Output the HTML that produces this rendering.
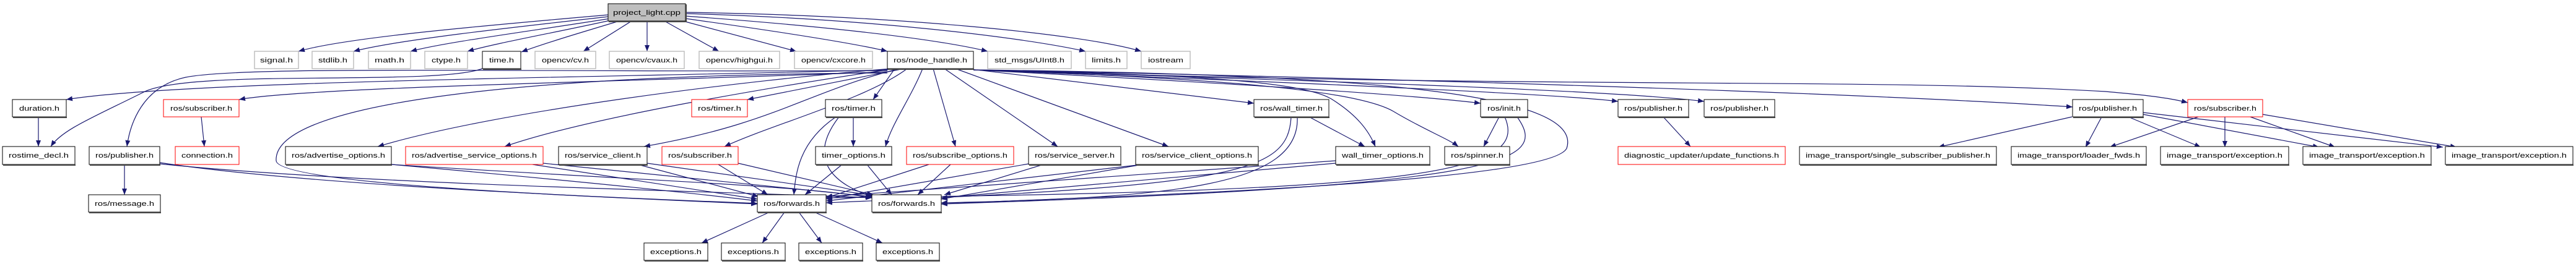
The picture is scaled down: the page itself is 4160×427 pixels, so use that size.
<!DOCTYPE html>
<html><head><meta charset="utf-8"><style>
html,body{margin:0;padding:0;background:#fff;}
svg{display:block;}
text{font-family:"Liberation Sans",sans-serif;font-size:11px;fill:#000;}
.e{fill:none;stroke:#191970;stroke-width:1.2;marker-end:url(#a);}
.b{fill:#fff;stroke:#000;stroke-width:1;}
.g{fill:#fff;stroke:#bfbfbf;stroke-width:1.5;}
.r{fill:#fff;stroke:#ff0000;stroke-width:1;}
.s{fill:none;stroke:#444;stroke-width:2;}
</style></head><body>
<svg width="4160" height="427" viewBox="0 0 4160 427" xmlns="http://www.w3.org/2000/svg">
<defs><marker id="a" markerUnits="userSpaceOnUse" markerWidth="12" markerHeight="10" refX="10" refY="4" orient="auto"><path d="M0,0 L10,4 L0,8 z" fill="#191970"/></marker></defs>
<g>
<path class="e" d="M982,24 C800,40 560,60 482,83"/>
<path class="e" d="M982,27 C820,45 640,65 571,83"/>
<path class="e" d="M985,30 C860,50 720,68 663,83"/>
<path class="e" d="M990,32 C900,52 800,70 755,83"/>
<path class="e" d="M1000,34 C930,55 880,70 842,84"/>
<path class="e" d="M1020,34 L942,83"/>
<path class="e" d="M1045,34 L1045,83"/>
<path class="e" d="M1073,34 L1161,83"/>
<path class="e" d="M1103,34 L1286,83"/>
<path class="e" d="M1107,30 C1250,50 1380,70 1433,83"/>
<path class="e" d="M1107,26 C1300,40 1500,60 1595,83"/>
<path class="e" d="M1107,22 C1400,30 1650,60 1753,83"/>
<path class="e" d="M1107,20 C1450,25 1750,55 1843,83"/>
<path class="e" d="M779,111 C700,140 300,110 230,150 C150,190 100,210 82,237"/>
<path class="e" d="M62,189 L62,237"/>
<path class="e" d="M1433,113 C1000,125 300,130 107,161"/>
<path class="e" d="M1433,116 C1100,130 500,140 386,161"/>
<path class="e" d="M1433,114 C900,118 400,105 300,125 C230,140 210,200 205,237"/>
<path class="e" d="M1433,118 C900,120 440,160 446,260 C450,300 1000,320 1223,329"/>
<path class="e" d="M1440,111 C1200,130 800,180 610,237"/>
<path class="e" d="M1445,111 C1250,140 950,190 815,237"/>
<path class="e" d="M1452,111 C1300,150 1250,200 1040,237"/>
<path class="e" d="M1460,111 L1207,161"/>
<path class="e" d="M1465,111 C1400,160 1250,200 1170,237"/>
<path class="e" d="M1445,111 L1410,161"/>
<path class="e" d="M1490,111 C1470,160 1440,200 1430,237"/>
<path class="e" d="M1507,111 L1543,237"/>
<path class="e" d="M1525,111 L1708,237"/>
<path class="e" d="M1543,111 L1887,237"/>
<path class="e" d="M1578,113 L2025,167"/>
<path class="e" d="M1572,113 C1900,120 2100,130 2150,160 C2190,185 2210,210 2221,237"/>
<path class="e" d="M1572,113 C1900,125 2180,140 2250,180 C2300,210 2340,225 2355,237"/>
<path class="e" d="M1572,113 C1900,130 2250,150 2391,167"/>
<path class="e" d="M1572,113 C2200,120 2560,150 2530,240 C2500,300 1700,320 1520,330"/>
<path class="e" d="M1572,113 C2000,130 2500,150 2613,164"/>
<path class="e" d="M1572,113 C2100,130 2600,145 2752,164"/>
<path class="e" d="M1572,113 C2200,125 3000,150 3347,173"/>
<path class="e" d="M1572,113 C2500,145 3000,125 3400,148 C3480,155 3510,160 3533,166"/>
<path class="e" d="M325,189 L330,237"/>
<path class="e" d="M201,266 L201,315"/>
<path class="e" d="M1378,189 L1378,237"/>
<path class="e" d="M2114,189 L2204,237"/>
<path class="e" d="M2421,189 L2396,237"/>
<path class="e" d="M2686,189 L2730,237"/>
<path class="e" d="M3346,189 L3130,238"/>
<path class="e" d="M3394,189 L3368,238"/>
<path class="e" d="M3437,189 L3554,238"/>
<path class="e" d="M3461,185 L3745,238"/>
<path class="e" d="M3461,182 L3945,238"/>
<path class="e" d="M3550,189 L3407,238"/>
<path class="e" d="M3593,189 L3593,238"/>
<path class="e" d="M3634,189 L3771,238"/>
<path class="e" d="M3654,185 L3967,238"/>
<path class="e" d="M258,263 C500,300 1000,320 1223,330"/>
<path class="e" d="M258,265 C600,300 1200,310 1408,320"/>
<path class="e" d="M632,266 C900,290 1100,310 1223,325"/>
<path class="e" d="M632,266 C1000,290 1300,300 1408,320"/>
<path class="e" d="M860,266 L1223,322"/>
<path class="e" d="M877,264 L1408,318"/>
<path class="e" d="M1030,266 L1225,318"/>
<path class="e" d="M1045,264 L1410,316"/>
<path class="e" d="M1160,266 L1240,315"/>
<path class="e" d="M1192,264 L1410,315"/>
<path class="e" d="M1350,189 C1290,230 1285,280 1282,315"/>
<path class="e" d="M1355,189 C1300,260 1350,300 1410,318"/>
<path class="e" d="M1360,266 L1300,315"/>
<path class="e" d="M1400,266 L1440,315"/>
<path class="e" d="M1500,266 L1334,320"/>
<path class="e" d="M1535,266 L1482,315"/>
<path class="e" d="M1661,265 L1334,322"/>
<path class="e" d="M1685,266 L1525,315"/>
<path class="e" d="M1845,266 L1334,325"/>
<path class="e" d="M1845,266 L1520,322"/>
<path class="e" d="M2085,189 C2080,280 2000,300 1334,328"/>
<path class="e" d="M2095,189 C2100,300 1900,320 1520,328"/>
<path class="e" d="M2157,260 L1334,318"/>
<path class="e" d="M2157,264 L1520,320"/>
<path class="e" d="M2430,189 C2470,280 2300,310 1334,320"/>
<path class="e" d="M2450,189 C2500,260 2450,300 1520,330"/>
<path class="e" d="M1243,343 L1133,393"/>
<path class="e" d="M1267,343 L1231,393"/>
<path class="e" d="M1290,343 L1327,393"/>
<path class="e" d="M1315,343 L1425,393"/>
</g>
<!-- nodes -->
<g>
<rect x="982" y="6" width="125" height="28" fill="#bfbfbf" stroke="#000"/><path class="s" d="M983,35 H1108 V7"/>
<text x="990" y="24" textLength="109" lengthAdjust="spacingAndGlyphs">project_light.cpp</text>

<rect class="g" x="411" y="83" width="71" height="28"/><text x="420" y="101" textLength="53" lengthAdjust="spacingAndGlyphs">signal.h</text>
<rect class="g" x="504" y="83" width="67" height="28"/><text x="514" y="101" textLength="47" lengthAdjust="spacingAndGlyphs">stdlib.h</text>
<rect class="g" x="595" y="83" width="68" height="28"/><text x="605" y="101" textLength="48" lengthAdjust="spacingAndGlyphs">math.h</text>
<rect class="g" x="686" y="83" width="69" height="28"/><text x="697" y="101" textLength="47" lengthAdjust="spacingAndGlyphs">ctype.h</text>
<rect class="b" x="779" y="83" width="62" height="28"/><path class="s" d="M780,112 H842"/><text x="790" y="101" textLength="40" lengthAdjust="spacingAndGlyphs">time.h</text>
<rect class="g" x="864" y="83" width="98" height="28"/><text x="875" y="101" textLength="76" lengthAdjust="spacingAndGlyphs">opencv/cv.h</text>
<rect class="g" x="984" y="83" width="121" height="28"/><text x="995" y="101" textLength="99" lengthAdjust="spacingAndGlyphs">opencv/cvaux.h</text>
<rect class="g" x="1129" y="83" width="130" height="28"/><text x="1140" y="101" textLength="108" lengthAdjust="spacingAndGlyphs">opencv/highgui.h</text>
<rect class="g" x="1283" y="83" width="126" height="28"/><text x="1294" y="101" textLength="104" lengthAdjust="spacingAndGlyphs">opencv/cxcore.h</text>
<rect class="b" x="1433" y="83" width="139" height="28"/><path class="s" d="M1434,112 H1573"/><text x="1443" y="101" textLength="119" lengthAdjust="spacingAndGlyphs">ros/node_handle.h</text>
<rect class="g" x="1595" y="83" width="135" height="28"/><text x="1606" y="101" textLength="113" lengthAdjust="spacingAndGlyphs">std_msgs/UInt8.h</text>
<rect class="g" x="1753" y="83" width="67" height="28"/><text x="1763" y="101" textLength="47" lengthAdjust="spacingAndGlyphs">limits.h</text>
<rect class="g" x="1843" y="83" width="79" height="28"/><text x="1854" y="101" textLength="57" lengthAdjust="spacingAndGlyphs">iostream</text>

<rect class="b" x="20" y="161" width="87" height="28"/><path class="s" d="M21,190 H108"/><text x="31" y="179" textLength="65" lengthAdjust="spacingAndGlyphs">duration.h</text>
<rect class="r" x="264" y="161" width="122" height="28"/><text x="275" y="179" textLength="100" lengthAdjust="spacingAndGlyphs">ros/subscriber.h</text>
<rect class="r" x="1117" y="161" width="90" height="28"/><text x="1127" y="179" textLength="70" lengthAdjust="spacingAndGlyphs">ros/timer.h</text>
<rect class="b" x="1333" y="161" width="91" height="28"/><path class="s" d="M1334,190 H1425"/><text x="1343" y="179" textLength="71" lengthAdjust="spacingAndGlyphs">ros/timer.h</text>
<rect class="b" x="2025" y="161" width="121" height="28"/><path class="s" d="M2026,190 H2147"/><text x="2035" y="179" textLength="101" lengthAdjust="spacingAndGlyphs">ros/wall_timer.h</text>
<rect class="b" x="2391" y="161" width="76" height="28"/><path class="s" d="M2392,190 H2468"/><text x="2402" y="179" textLength="54" lengthAdjust="spacingAndGlyphs">ros/init.h</text>
<rect class="b" x="2613" y="161" width="114" height="28"/><path class="s" d="M2614,190 H2728"/><text x="2623" y="179" textLength="94" lengthAdjust="spacingAndGlyphs">ros/publisher.h</text>
<rect class="b" x="2752" y="161" width="114" height="28"/><path class="s" d="M2753,190 H2867"/><text x="2762" y="179" textLength="94" lengthAdjust="spacingAndGlyphs">ros/publisher.h</text>
<rect class="b" x="3347" y="161" width="114" height="28"/><path class="s" d="M3348,190 H3462"/><text x="3357" y="179" textLength="94" lengthAdjust="spacingAndGlyphs">ros/publisher.h</text>
<rect class="r" x="3533" y="161" width="121" height="28"/><text x="3543" y="179" textLength="101" lengthAdjust="spacingAndGlyphs">ros/subscriber.h</text>

<rect class="b" x="4" y="237" width="117" height="29"/><path class="s" d="M5,267 H122"/><text x="14" y="255" textLength="97" lengthAdjust="spacingAndGlyphs">rostime_decl.h</text>
<rect class="b" x="144" y="237" width="114" height="29"/><path class="s" d="M145,267 H259"/><text x="154" y="255" textLength="94" lengthAdjust="spacingAndGlyphs">ros/publisher.h</text>
<rect class="r" x="283" y="237" width="103" height="29"/><text x="293" y="255" textLength="83" lengthAdjust="spacingAndGlyphs">connection.h</text>
<rect class="b" x="461" y="237" width="171" height="29"/><path class="s" d="M462,267 H633"/><text x="471" y="255" textLength="151" lengthAdjust="spacingAndGlyphs">ros/advertise_options.h</text>
<rect class="r" x="655" y="237" width="222" height="29"/><text x="665" y="255" textLength="202" lengthAdjust="spacingAndGlyphs">ros/advertise_service_options.h</text>
<rect class="b" x="902" y="237" width="143" height="29"/><path class="s" d="M903,267 H1046"/><text x="912" y="255" textLength="123" lengthAdjust="spacingAndGlyphs">ros/service_client.h</text>
<rect class="r" x="1069" y="237" width="123" height="29"/><text x="1079" y="255" textLength="103" lengthAdjust="spacingAndGlyphs">ros/subscriber.h</text>
<rect class="b" x="1317" y="237" width="123" height="29"/><path class="s" d="M1318,267 H1441"/><text x="1327" y="255" textLength="103" lengthAdjust="spacingAndGlyphs">timer_options.h</text>
<rect class="r" x="1464" y="237" width="173" height="29"/><text x="1474" y="255" textLength="153" lengthAdjust="spacingAndGlyphs">ros/subscribe_options.h</text>
<rect class="b" x="1661" y="237" width="149" height="29"/><path class="s" d="M1662,267 H1811"/><text x="1671" y="255" textLength="129" lengthAdjust="spacingAndGlyphs">ros/service_server.h</text>
<rect class="b" x="1834" y="237" width="198" height="29"/><path class="s" d="M1835,267 H2033"/><text x="1844" y="255" textLength="178" lengthAdjust="spacingAndGlyphs">ros/service_client_options.h</text>
<rect class="b" x="2157" y="237" width="152" height="29"/><path class="s" d="M2158,267 H2310"/><text x="2167" y="255" textLength="132" lengthAdjust="spacingAndGlyphs">wall_timer_options.h</text>
<rect class="b" x="2333" y="237" width="105" height="29"/><path class="s" d="M2334,267 H2439"/><text x="2343" y="255" textLength="85" lengthAdjust="spacingAndGlyphs">ros/spinner.h</text>
<rect class="r" x="2613" y="237" width="270" height="29"/><text x="2623" y="255" textLength="250" lengthAdjust="spacingAndGlyphs">diagnostic_updater/update_functions.h</text>
<rect class="b" x="2906" y="237" width="318" height="29"/><path class="s" d="M2907,267 H3225"/><text x="2916" y="255" textLength="298" lengthAdjust="spacingAndGlyphs">image_transport/single_subscriber_publisher.h</text>
<rect class="b" x="3248" y="237" width="218" height="29"/><path class="s" d="M3249,267 H3467"/><text x="3258" y="255" textLength="198" lengthAdjust="spacingAndGlyphs">image_transport/loader_fwds.h</text>
<rect class="b" x="3489" y="237" width="207" height="29"/><path class="s" d="M3490,267 H3697"/><text x="3499" y="255" textLength="187" lengthAdjust="spacingAndGlyphs">image_transport/exception.h</text>
<rect class="b" x="3719" y="237" width="207" height="29"/><path class="s" d="M3720,267 H3927"/><text x="3729" y="255" textLength="187" lengthAdjust="spacingAndGlyphs">image_transport/exception.h</text>
<rect class="b" x="3949" y="237" width="206" height="29"/><path class="s" d="M3950,267 H4156"/><text x="3959" y="255" textLength="186" lengthAdjust="spacingAndGlyphs">image_transport/exception.h</text>

<rect class="b" x="143" y="315" width="116" height="28"/><path class="s" d="M144,344 H260"/><text x="153" y="333" textLength="96" lengthAdjust="spacingAndGlyphs">ros/message.h</text>
<rect class="b" x="1223" y="315" width="111" height="28"/><path class="s" d="M1224,344 H1335"/><text x="1233" y="333" textLength="91" lengthAdjust="spacingAndGlyphs">ros/forwards.h</text>
<rect class="b" x="1408" y="315" width="112" height="28"/><path class="s" d="M1409,344 H1521"/><text x="1418" y="333" textLength="92" lengthAdjust="spacingAndGlyphs">ros/forwards.h</text>

<rect class="b" x="1040" y="393" width="103" height="28"/><path class="s" d="M1041,422 H1144"/><text x="1050" y="411" textLength="83" lengthAdjust="spacingAndGlyphs">exceptions.h</text>
<rect class="b" x="1165" y="393" width="103" height="28"/><path class="s" d="M1166,422 H1269"/><text x="1175" y="411" textLength="83" lengthAdjust="spacingAndGlyphs">exceptions.h</text>
<rect class="b" x="1290" y="393" width="103" height="28"/><path class="s" d="M1291,422 H1394"/><text x="1300" y="411" textLength="83" lengthAdjust="spacingAndGlyphs">exceptions.h</text>
<rect class="b" x="1415" y="393" width="102" height="28"/><path class="s" d="M1416,422 H1518"/><text x="1425" y="411" textLength="82" lengthAdjust="spacingAndGlyphs">exceptions.h</text>
</g>
</svg>
</body></html>
